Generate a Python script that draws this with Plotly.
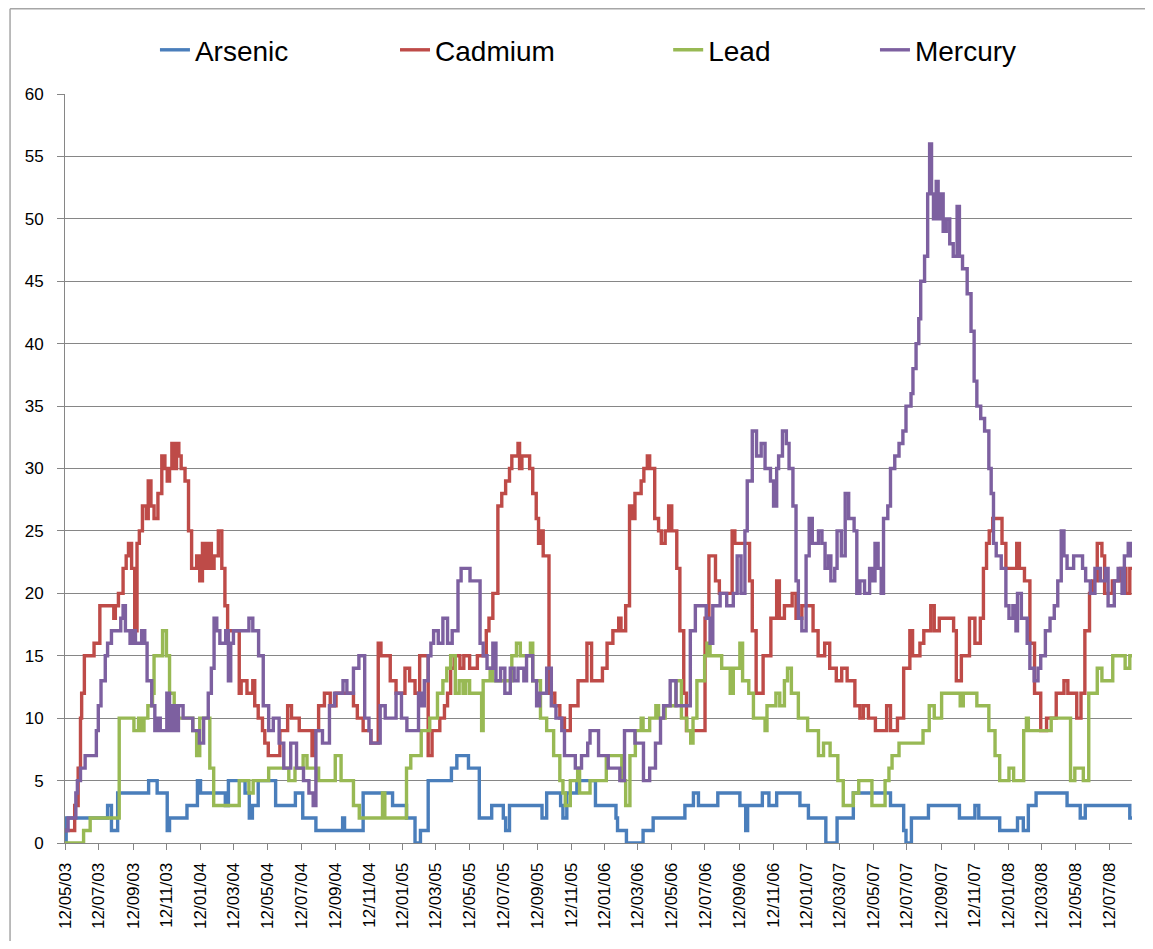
import pandas as pd
import plotly.graph_objects as go

START = "2003-05-12"
END = "2008-08-22"

# Step series: week offsets (from 12/05/03) where the value changes, and the new value
arsenic_wk = [0, 0.3, 11, 12, 13.6, 21.6, 23.8, 26.4, 27, 31.5, 34.2, 35, 41.4, 42.2, 46.5, 47.6, 48.4, 49.9,
              54.4, 59.5, 61.4, 64.8, 71.7, 72.2, 77, 84.6, 88.2, 90.4, 91.8, 93.8, 99.8, 101.2, 104.2, 107,
              110.2, 113.2, 113.8, 114.8, 123.2, 124.4, 128, 128.6, 129.6, 132.2, 137, 142.3, 142.7, 145,
              149.3, 151.9, 160.1, 162.3, 163.6, 168.6, 174.3, 175.8, 176.3, 180.1, 181.8, 183.8, 189.8,
              192, 196.5, 199.4, 203.6, 213.2, 216.6, 217.2, 218.6, 223, 231, 235, 236, 241.4, 246, 247.5,
              248.8, 250.8, 258.8, 262.2, 263.5, 275, 275.6]
arsenic_val = [0, 2, 3, 1, 4, 5, 4, 1, 2, 3, 5, 4, 3, 5, 4, 2, 3, 5,
               3, 4, 2, 1, 2, 1, 4, 3, 2, 0, 1, 5, 6, 7, 6, 2,
               3, 2, 1, 3, 2, 4, 3, 2, 4, 5, 3, 2, 1, 0,
               1, 2, 3, 4, 3, 4, 3, 1, 3, 4, 3, 4, 3,
               2, 0, 2, 4, 3, 1, 0, 2, 3, 2, 3, 2, 1, 2, 1,
               3, 4, 3, 2, 3, 2, 2]

cadmium_wk = [0, 2.5, 3.4, 4, 4.3, 5, 7.5, 9, 12.6, 13, 13.8, 15, 15.8, 16.4, 17.2, 18, 18.6, 19.2, 20, 21,
              21.5, 22.2, 23, 24, 25, 25.8, 26.4, 27, 27.6, 28.2, 28.8, 29.4, 30, 31, 31.9, 32.7, 34, 34.8,
              35.5, 36.2, 37, 37.8, 38.5, 39.6, 40.5, 41.3, 42, 45, 45.5, 47, 48.5, 49, 49.9, 51, 51.6, 52.5,
              55.5, 57.5, 58.5, 60.5, 63.8, 64.5, 65.5, 67, 68.5, 70, 74.5, 75.5, 77, 79, 80.9, 81.6, 84,
              85.5, 87.8, 89, 90.4, 91.6, 93.8, 94.8, 96.8, 98, 98.8, 99.6, 100.5, 102, 103, 104.5, 106.5,
              108.8, 109.5, 110.5, 111.8, 112.8, 113.8, 114.8, 115.4, 117, 117.4, 118, 120, 120.8, 121.7,
              122.3, 122.8, 123.5, 125, 126.5, 127.8, 129, 130.5, 132.5, 134.8, 136, 138.8, 140, 141.5, 143,
              143.6, 144.8, 145.8, 146.6, 147.2, 148.8, 149.5, 150.4, 151, 152.3, 153.3, 154, 155, 155.9,
              156.7, 158, 158.8, 159.8, 160.5, 165.3, 166.3, 168, 169, 172.3, 173, 176.8, 177.5, 178.5,
              180.3, 182.3, 183.8, 184.5, 185.8, 187.8, 188.8, 190.3, 193.2, 194.5, 196.2, 197.5, 199.2,
              200.6, 202, 204, 205.3, 206.2, 207.5, 209.3, 212.2, 213.2, 215, 216.6, 218.2, 218.9, 220.8,
              221.8, 223.6, 224.5, 225.8, 229.5, 230.2, 231.5, 233.6, 235, 236.4, 237.2, 238, 238.7, 239.6,
              242, 243, 245.8, 246.5, 247.8, 249.2, 250.4, 252, 253.5, 256, 258, 259, 261.3, 262.4, 263.4,
              264.6, 265.4, 266.6, 267.8, 268.5, 270.5, 272.6, 274, 275, 275.6]
cadmium_val = [1, 3, 6, 10, 12, 15, 16, 19, 18, 19, 20, 22, 23, 24, 22, 17, 24, 25, 27, 26,
               29, 27, 26, 28, 31, 30, 29, 30, 32, 30, 32, 31, 30, 29, 25, 22, 23, 21,
               24, 22, 24, 22, 23, 25, 22, 19, 17, 12, 13, 12, 13, 11, 10, 9, 8, 7,
               9, 11, 10, 9, 7, 9, 11, 12, 11, 12, 11, 10, 9, 8, 16, 15, 13,
               12, 14, 13, 12, 15, 7, 9, 10, 11, 12, 14, 15, 14, 15, 14, 15,
               17, 18, 20, 27, 28, 29, 30, 31, 32, 30, 31, 30, 28, 26,
               24, 25, 23, 12, 11, 10, 9, 11, 13, 16, 13, 14, 16, 17, 18,
               17, 19, 27, 26, 28, 29, 30, 31, 30, 26, 25, 24, 25, 27,
               25, 22, 17, 12, 9, 18, 23, 21, 20, 25, 24, 21, 17, 12,
               15, 18, 21, 18, 19, 20, 18, 19, 17, 15, 16, 14, 13,
               14, 13, 11, 10, 11, 10, 9, 11, 9, 10, 14, 17, 15, 16,
               17, 19, 17, 18, 17, 13, 15, 18, 16, 18, 22, 24, 25, 26,
               24, 22, 24, 22, 21, 16, 12, 9, 10, 12, 13, 12, 10, 12, 17,
               20, 21, 24, 23, 20, 21, 22, 20, 22, 22]

lead_wk = [0, 4.8, 6.5, 14, 17.8, 19, 19.6, 20.4, 21.4, 22.6, 23, 25.2, 26.2, 27, 28.2, 33, 34, 34.8, 37.4,
           38.4, 45, 47.5, 48.6, 52.6, 57.8, 59.4, 61.5, 62.5, 65.5, 69.8, 71.3, 74.5, 76, 82, 82.6, 88.2,
           89.3, 92, 94.2, 96.2, 97.6, 98.6, 99.6, 100.8, 101.8, 102.8, 103.5, 104.5, 107.6, 108, 109.8,
           110.5, 115.4, 116.6, 117.6, 120.2, 120.8, 122.8, 124.4, 126.2, 127.8, 128.6, 129.2, 130.5, 132.4,
           132.9, 135.6, 139.8, 143.8, 144.8, 145.9, 147.3, 148.8, 149.3, 151, 152.6, 153.3, 155, 157.8,
           159.2, 160.6, 161.6, 162.2, 163.2, 165.2, 165.8, 166.6, 169.6, 171.8, 172.6, 174.3, 175, 176.6,
           177.8, 180.8, 181.3, 183.6, 184.6, 185.8, 186.6, 187.6, 189.4, 191.8, 194.6, 195.9, 197.6,
           199.6, 201, 203.6, 205, 208.4, 211.8, 212.8, 213.6, 215.4, 221.6, 223.2, 224.5, 226.4, 231.2,
           232, 235.5, 238.6, 240.2, 241.4, 243.8, 245, 247.6, 248.3, 248.8, 254.7, 259.7, 260.8, 263,
           264.4, 266.6, 267.8, 270.6, 273.8, 275, 275.6]
lead_val = [0, 1, 2, 10, 9, 10, 9, 10, 11, 12, 15, 17, 15, 12, 10, 9, 7, 10, 6,
            3, 5, 4, 5, 6, 5, 6, 7, 6, 5, 7, 5, 3, 2, 4, 2, 6,
            7, 9, 10, 12, 13, 14, 15, 12, 13, 12, 13, 12, 9, 13, 14,
            13, 15, 16, 15, 16, 13, 10, 9, 7, 5, 4, 3, 5, 6,
            4, 5, 7, 5, 3, 7, 9, 10, 9, 10, 11, 10, 11, 13,
            10, 9, 8, 10, 13, 15, 16, 15, 14, 12, 14, 16, 13, 12,
            10, 9, 11, 12, 11, 13, 14, 12, 10, 9, 7, 8, 7,
            5, 3, 4, 5, 3, 5, 6, 7, 8, 9, 11, 10, 12, 11,
            12, 11, 9, 7, 5, 6, 5, 9, 10, 9, 10, 5, 6, 5,
            12, 14, 13, 15, 14, 15, 15]

mercury_wk = [0, 0.8, 2.8, 3.2, 4, 5.2, 8.1, 8.6, 9.3, 10.4, 11, 12, 14.4, 15, 15.6, 16.8, 17.5, 18.2, 19.8,
              20.6, 21.2, 22.4, 23.2, 24, 24.6, 26.3, 27, 27.8, 28.5, 29.3, 30.5, 33, 34.7, 35.8, 37, 37.8,
              38.5, 39.2, 40, 41.5, 42.2, 42.8, 43.5, 47.5, 48.5, 50, 51.2, 52.6, 53.8, 55.3, 56.5, 58.3,
              59.8, 61.6, 63, 64.1, 64.8, 66.5, 68.3, 69.6, 71.8, 72.8, 74.5, 75.9, 77.4, 78.5, 79, 81.4,
              82.7, 85.5, 86.9, 88.3, 91.3, 92, 92.8, 93.8, 94.5, 95.2, 96.4, 97.6, 98.8, 100, 101.5, 102.3,
              104.6, 107.2, 108, 109, 110.5, 111.3, 112.5, 113.6, 115, 116, 117, 118.5, 119.2, 120.8, 121.8,
              122.6, 124.4, 125.6, 126.8, 128.3, 129, 131.8, 133.4, 135, 135.6, 137.8, 140.3, 143.3, 144.5,
              147.2, 149.4, 151, 152.5, 153.8, 154.6, 156.3, 157.8, 161.5, 162.8, 165.6, 166.6, 167.3,
              169.2, 170.9, 172.6, 173.6, 174.6, 175.6, 176.2, 177.5, 178.6, 179.8, 180.8, 182.2, 183,
              183.8, 184.3, 185.3, 186.3, 187, 188, 188.8, 189.4, 190.3, 191.4, 192.2, 193, 194.6, 195.5,
              196.3, 197.2, 197.8, 198.8, 199.4, 200.5, 201.5, 202.4, 203.8, 204.5, 205.3, 206.5, 207.8,
              208.6, 209.2, 210, 210.8, 211.4, 212.5, 213.2, 214.3, 215.4, 216.4, 217.2, 218.5, 219, 219.8,
              220.5, 221, 222, 222.8, 223.3, 223.8, 224.3, 225, 225.5, 226.2, 226.8, 227.6, 228.5, 229.4,
              230.4, 231, 231.8, 233, 234, 234.8, 235.5, 236.5, 237.5, 238.6, 239.2, 239.8, 240.5, 241.8,
              243, 243.8, 244.8, 245.6, 246, 247, 248.5, 249.2, 250.3, 251.3, 252, 253.2, 254.4, 255.5,
              256.4, 257.3, 258, 258.8, 260.5, 262.8, 263.6, 264.8, 266, 267.4, 268.7, 269.4, 271, 272,
              273, 273.6, 274.6, 275.2, 275.6]
mercury_val = [1, 2, 4, 5, 6, 7, 9, 11, 13, 15, 16, 17, 18, 19, 17, 16, 17, 16, 17,
               16, 13, 11, 9, 10, 9, 12, 9, 11, 9, 11, 10, 9, 8, 10, 12, 14,
               18, 17, 16, 17, 13, 16, 17, 18, 17, 15, 11, 9, 10, 8, 6, 8,
               6, 5, 4, 3, 9, 8, 11, 12, 13, 12, 14, 15, 10, 9, 8, 11,
               10, 12, 10, 9, 12, 11, 13, 15, 16, 17, 16, 18, 16, 17, 21, 22,
               21, 16, 15, 14, 16, 13, 14, 12, 14, 13, 14, 13, 15, 13, 11,
               12, 14, 11, 10, 9, 7, 6, 7, 8, 9, 7, 6, 5, 9,
               8, 5, 6, 8, 10, 11, 13, 11, 17, 19, 18, 16, 19,
               20, 19, 20, 23, 20, 25, 29, 33, 31, 32, 30, 29, 27,
               30, 31, 33, 32, 30, 27, 21, 18, 17, 23, 26, 24, 25, 24,
               22, 23, 21, 22, 25, 23, 28, 26, 25, 20, 21, 20, 22,
               21, 24, 22, 20, 26, 27, 30, 31, 32, 33, 35, 36, 38, 40,
               42, 45, 47, 52, 56, 52, 50, 53, 50, 52, 49, 50, 48, 47,
               51, 47, 46, 44, 41, 37, 35, 34, 33, 30, 28, 24, 23, 22,
               19, 18, 19, 17, 20, 18, 16, 14, 13, 14, 15, 17, 18, 19,
               21, 25, 23, 22, 23, 22, 21, 20, 22, 21, 22, 19, 21, 22,
               20, 23, 24, 23, 23]

series = [
    ("Arsenic", arsenic_wk, arsenic_val, "#4A7EBB", "legend"),
    ("Cadmium", cadmium_wk, cadmium_val, "#BE4B48", "legend2"),
    ("Lead", lead_wk, lead_val, "#98B954", "legend3"),
    ("Mercury", mercury_wk, mercury_val, "#7D60A0", "legend4"),
]

start = pd.Timestamp(START)
fig = go.Figure()
for name, wk, val, color, lg in series:
    assert len(wk) == len(val), name
    x = [start + pd.Timedelta(days=w * 7) for w in wk]
    fig.add_trace(go.Scatter(x=x, y=val, name=name, mode="lines", line_shape="hv",
                             line=dict(color=color, width=3.4), legend=lg))

tick_dates = pd.date_range(START, "2008-07-12", freq=pd.DateOffset(months=2))
tick_text = [d.strftime("%d/%m/%y") for d in tick_dates]

FONT = "Liberation Sans, Arial, sans-serif"
LEG_Y = 1.0586


def legend_at(xp):
    return dict(orientation="h", x=xp, xanchor="left", y=LEG_Y, yanchor="middle",
                font=dict(size=28, family=FONT, color="#000000"), bgcolor="rgba(0,0,0,0)",
                borderwidth=0)


fig.update_layout(
    width=1137, height=933,
    margin=dict(l=57, r=13, t=86, b=96),
    paper_bgcolor="white", plot_bgcolor="white",
    font=dict(family=FONT, color="#000000", size=17),
    showlegend=True,
    legend=legend_at(0.0843),
    legend2=legend_at(0.3093),
    legend3=legend_at(0.5653),
    legend4=legend_at(0.7591),
    xaxis=dict(type="date", range=[START, END], tickvals=tick_dates, ticktext=tick_text,
               tickangle=-90, showgrid=False, ticks="outside", ticklen=6, tickcolor="#868686",
               showline=True, linecolor="#868686", linewidth=1, zeroline=False,
               tickfont=dict(size=17), ticklabelstandoff=6),
    yaxis=dict(range=[0, 60], dtick=5, showgrid=True, gridcolor="#868686", gridwidth=1,
               ticks="outside", ticklen=7, tickcolor="#868686", showline=True, linecolor="#868686",
               zeroline=False, tickfont=dict(size=17), ticklabelstandoff=10),
    shapes=[
        dict(type="line", xref="paper", yref="paper", x0=-0.0515, x1=1.02, y0=1.1138, y1=1.1138,
             line=dict(color="#A6A6A6", width=1.5)),
        dict(type="line", xref="paper", yref="paper", x0=-0.0515, x1=-0.0515, y0=-0.15, y1=1.1138,
             line=dict(color="#A6A6A6", width=1.5)),
    ],
)

fig.write_html("out.html")
